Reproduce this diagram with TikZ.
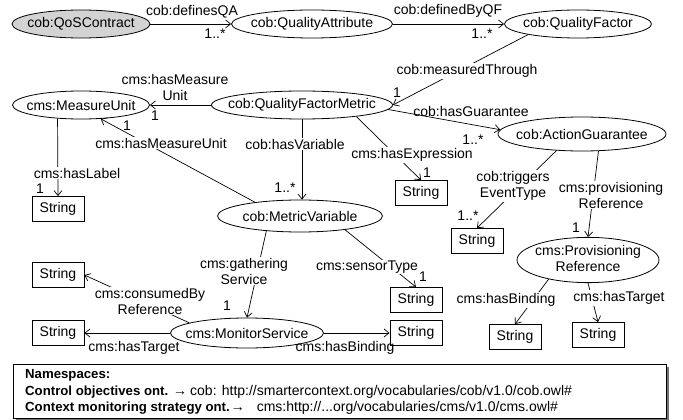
\documentclass[tikz,border=0pt]{standalone}
\usepackage{fontspec}
\setmainfont{Liberation Sans}
\usetikzlibrary{arrows.meta,shapes.geometric}
\definecolor{qosgray}{RGB}{211,211,211}
\newcommand{\nsbold}[1]{{\fontsize{13.2}{16}\selectfont\bfseries #1}}
\begin{document}
\begin{tikzpicture}[x=1pt,y=-1pt,
  every node/.style={font=\fontsize{14}{16}\selectfont},
  ell/.style={ellipse,draw,line width=0.8pt,inner sep=0pt,fill=white},
  strbox/.style={rectangle,draw,line width=0.8pt,minimum width=52pt,minimum height=25pt,inner sep=0pt,fill=white},
  conn/.style={line width=0.7pt,-{Straight Barb[length=5pt,width=8pt]}},
  lbl/.style={inner sep=1pt,align=center},
  wlbl/.style={lbl,fill=white},
  nsf/.style={font=\fontsize{14}{16}\selectfont,inner sep=0pt,anchor=west},
]
\fill[white] (0,0) rectangle (683,420);
\useasboundingbox (0,0) rectangle (683,420);

% class nodes
\node[ell,fill=qosgray,minimum width=138pt,minimum height=28pt] (qos) at (81,24) {\makebox[0pt]{cob:QoSContract}};
\node[ell,minimum width=161pt,minimum height=28pt] (qa) at (312,24) {\makebox[0pt]{cob:QualityAttribute}};
\node[ell,minimum width=147pt,minimum height=28pt] (qf) at (578,24) {\makebox[0pt]{cob:QualityFactor}};
\node[ell,minimum width=137pt,minimum height=28pt] (mu) at (81,105) {\makebox[0pt]{cms:MeasureUnit}};
\node[ell,minimum width=181pt,minimum height=28pt] (qfm) at (302,105) {\makebox[0pt]{cob:QualityFactorMetric}};
\node[ell,minimum width=168pt,minimum height=34pt] (ag) at (582,134) {\makebox[0pt]{cob:ActionGuarantee}};
\node[ell,minimum width=165pt,minimum height=32pt] (mv) at (300,216) {\makebox[0pt]{cob:MetricVariable}};
\node[ell,minimum width=142pt,minimum height=44pt] (pr) at (588,260) {\makebox[0pt]{\begin{tabular}{@{}c@{}}cms:Provisioning\\Reference\end{tabular}}};
\node[ell,minimum width=153pt,minimum height=30pt] (ms) at (247,333) {\makebox[0pt]{cms:MonitorService}};

% literal nodes
\node[strbox] (s1) at (58,209) {String};
\node[strbox] (s2) at (421,193) {String};
\node[strbox] (s3) at (477,241) {String};
\node[strbox] (s4) at (58,275) {String};
\node[strbox] (s5) at (58,333) {String};
\node[strbox] (s6) at (416,300) {String};
\node[strbox] (s7) at (416,333) {String};
\node[strbox] (s8) at (515,337) {String};
\node[strbox] (s9) at (598,335) {String};

% connectors
\draw[conn] (qos.east) -- (qa.west);
\draw[conn] (qa.east) -- (qf.west);
\draw[conn] (qf.192) -- (qfm.east);
\draw[conn] (qfm.west) -- (mu.east);
\draw[conn] (mv.163) -- (mu.325);
\draw[conn] (mu.210) -- (s1.north);
\draw[conn] (qfm.south) -- (qfm.south |- mv.north);
\draw[conn] (qfm.348) -- (s2.north);
\draw[conn] (qfm.357) -- (ag.177);
\draw[conn] (ag.213) -- (s3.north);
\draw[conn] (ag.314) -- (pr.north);
\draw[conn] (mv.204) -- (ms.north);
\draw[conn] (mv.343) -- (s6.north);
\draw[conn] (ms.170) -- (s4.east);
\draw[conn] (ms.west) -- (s5.east);
\draw[conn] (ms.east) -- (s7.west);
\draw[conn] (pr.206) -- (s8.north);
\draw[conn] (pr.south) -- (s9.north);

% connector labels
\node[lbl] (l1) at (192,12) {cob:definesQA};
\node[lbl] (m1) at (215,34) {1..*};
\node[lbl] (l2) at (448,11) {cob:definedByQF};
\node[lbl] (m2) at (482,34) {1..*};
\node[wlbl] (l3) at (467,71) {cob:measuredThrough};
\node[lbl] (m3) at (397,93) {1};
\node[lbl] (l4) at (175,87) {cms:hasMeasure\\Unit};
\node[lbl] (m4) at (155,116) {1};
\node[wlbl] (l5) at (161,143) {cms:hasMeasureUnit};
\node[lbl] (m5) at (127,126) {1};
\node[wlbl] (l6) at (77,173) {cms:hasLabel};
\node[lbl] (m6) at (40,189) {1};
\node[wlbl] (l7) at (295,144) {cob:hasVariable};
\node[lbl] (m7) at (285,188) {1..*};
\node[wlbl] (l8) at (412,155) {cms:hasExpression};
\node[lbl] (m8) at (427,173) {1};
\node[lbl] (l9) at (471,111) {cob:hasGuarantee};
\node[lbl] (m9) at (473,140) {1..*};
\node[wlbl] (l10) at (513,186) {cob:triggers\\EventType};
\node[lbl] (m10) at (468,216) {1..*};
\node[wlbl] (l11) at (611,195) {cms:provisioning\\Reference};
\node[lbl] (m11) at (576,228) {1};
\node[wlbl] (l12) at (244,271) {cms:gathering\\Service};
\node[lbl] (m12) at (227,306) {1};
\node[wlbl] (l13) at (367,267) {cms:sensorType};
\node[lbl] (m13) at (423,277) {1};
\node[wlbl] (l14) at (150,301) {cms:consumedBy\\Reference};
\node[lbl] (l15) at (134,348) {cms:hasTarget};
\node[lbl] (l16) at (345,348) {cms:hasBinding};
\node[wlbl] (l17) at (506,300) {cms:hasBinding};
\node[wlbl] (l18) at (619,298) {cms:hasTarget};

% namespaces box
\fill[black!55] (15.5,366.5) rectangle (668.5,420);
\node[draw,line width=0.8pt,fill=white,anchor=north west,minimum width=653pt,minimum height=54pt,inner sep=0pt] (nsbox) at (13,364) {};
\node[nsf] (ns1) at (25,375) {\nsbold{Namespaces:}};
\node[nsf] (ns2) at (25,392) {\nsbold{Control objectives ont.}\hspace{5pt}→\hspace{3pt}cob: http://smartercontext.org/vocabularies/cob/v1.0/cob.owl\#};
\node[nsf] (ns3) at (25,408) {\nsbold{Context monitoring strategy ont.}\hspace{1pt}→\hspace{12pt}cms:http://...org/vocabularies/cms/v1.0/cms.owl\#};
\end{tikzpicture}
\end{document}
